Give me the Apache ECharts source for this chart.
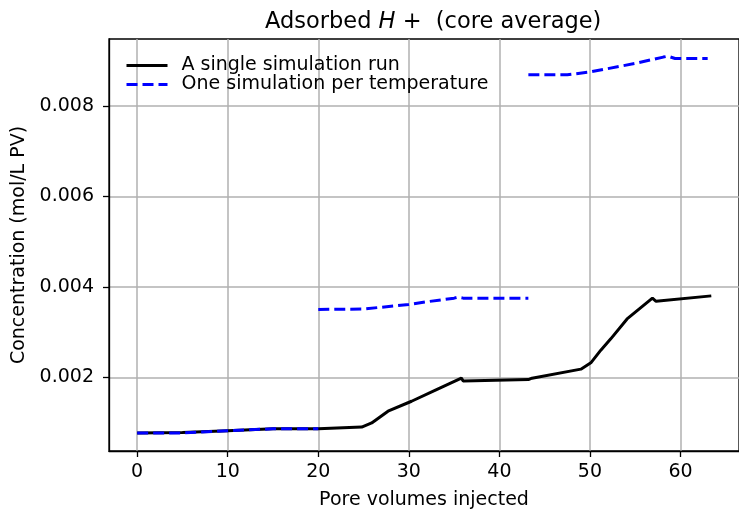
<!DOCTYPE html>
<html><head><meta charset="utf-8">
<script src="https://cdn.jsdelivr.net/npm/echarts@6/dist/echarts.min.js"></script>
<style>html,body{margin:0;padding:0;background:#fff}#c{width:739px;height:515px}</style>
</head><body><div id="c"></div>
<script>
// ---- data ----
const xTicks = [0, 10, 20, 30, 40, 50, 60];
const yTicks = [0.002, 0.004, 0.006, 0.008];

const singleX = [0, 5, 10, 15, 20, 24.8, 25.9, 27.7, 30.3, 33, 35.8, 36.0, 43.2, 43.6, 49.0, 50.1, 51.2, 52.3, 54.1, 56.9, 57.3, 63.4];
const singleY = [0.00077, 0.00078, 0.00082, 0.00086, 0.00086, 0.00090, 0.00099, 0.00125, 0.00147, 0.00172, 0.00198, 0.00192, 0.00195, 0.00198, 0.00218, 0.00232, 0.00260, 0.00285, 0.00329, 0.00375, 0.00368, 0.00380];

const tempX1 = [0, 5, 10, 15, 20];
const tempY1 = [0.00077, 0.00077, 0.00082, 0.00086, 0.00086];
const tempX2 = [20, 25, 30, 32, 35, 35.4, 36, 43.2];
const tempY2 = [0.00350, 0.00351, 0.00361, 0.00367, 0.00375, 0.00377, 0.00375, 0.00375];
const tempX3 = [43.2, 47.5, 50, 55, 58.1, 58.6, 59.4, 63.0];
const tempY3 = [0.00869, 0.00869, 0.00875, 0.00894, 0.00908, 0.00910, 0.00905, 0.00905];

const nameSingle = 'A single simulation run';
const nameTemp = 'One simulation per temperature';

// ---- chart ----
const FONT = 'DejaVu Sans';
const FS = 19;
const zip = (xs, ys) => xs.map((x, i) => [x, ys[i]]);
const chart = echarts.init(document.getElementById('c'), null, {renderer: 'canvas'});

const blueStyle = {color: '#0000ff', width: 3, type: [11, 5]};
const blackStyle = {color: '#000000', width: 3, type: 'solid'};

function tempSeries(xs, ys) {
  return {
    name: nameTemp, type: 'line', data: zip(xs, ys), symbol: 'none',
    lineStyle: blueStyle, itemStyle: {color: '#0000ff'}, animation: false, z: 3
  };
}

chart.setOption({
  animation: false,
  backgroundColor: '#ffffff',
  title: {
    text: 'Adsorbed {i|H} +  (core average)',
    left: 260, top: 6,
    textStyle: {
      fontFamily: FONT, fontSize: 22.5, fontWeight: 'normal', color: '#000',
      rich: {i: {fontFamily: FONT, fontSize: 22.5, fontStyle: 'italic', color: '#000'}}
    }
  },
  legend: {
    orient: 'vertical', left: 125, top: 56, padding: 0,
    itemWidth: 41, itemHeight: 14, itemGap: 0,
    itemStyle: {color: 'rgba(0,0,0,0)', borderWidth: 0},
    lineStyle: {width: 3},
    textStyle: {fontFamily: FONT, fontSize: FS, color: '#000', lineHeight: 19, padding: [0, 0, 0, 9]},
    data: [nameSingle, nameTemp]
  },
  grid: {
    left: 109, top: 39, width: 642, height: 416,
    show: true, borderColor: '#000', borderWidth: 1.3, containLabel: false
  },
  xAxis: {
    type: 'value', min: -3.11, max: 66.46,
    name: 'Pore volumes injected', nameLocation: 'middle', nameGap: 40,
    nameTextStyle: {fontFamily: FONT, fontSize: FS, color: '#000'},
    axisLine: {show: true, onZero: false, lineStyle: {color: '#000', width: 1.3}},
    axisTick: {show: true, length: 6, inside: false, customValues: xTicks, lineStyle: {color: '#000', width: 1.3}},
    axisLabel: {customValues: xTicks, fontFamily: FONT, fontSize: FS, color: '#000', margin: 12,
      formatter: v => String(v)},
    splitLine: {show: true, lineStyle: {color: '#b0b0b0', width: 1.5}}
  },
  yAxis: {
    type: 'value', min: 0.00037, max: 0.00948,
    name: 'Concentration (mol/L PV)', nameLocation: 'middle', nameGap: 73, nameRotate: 90,
    nameTextStyle: {fontFamily: FONT, fontSize: FS, color: '#000'},
    axisLine: {show: true, onZero: false, lineStyle: {color: '#000', width: 1.3}},
    axisTick: {show: true, length: 6, inside: false, customValues: yTicks, lineStyle: {color: '#000', width: 1.3}},
    axisLabel: {customValues: yTicks, fontFamily: FONT, fontSize: FS, color: '#000', margin: 15,
      formatter: v => v.toFixed(3)},
    splitLine: {show: true, lineStyle: {color: '#b0b0b0', width: 1.5}}
  },
  series: [
    {
      name: nameSingle, type: 'line', data: zip(singleX, singleY), symbol: 'none',
      lineStyle: blackStyle, itemStyle: {color: '#000'}, z: 2
    },
    tempSeries(tempX1, tempY1),
    tempSeries(tempX2, tempY2),
    tempSeries(tempX3, tempY3)
  ]
});
</script>
</body></html>
